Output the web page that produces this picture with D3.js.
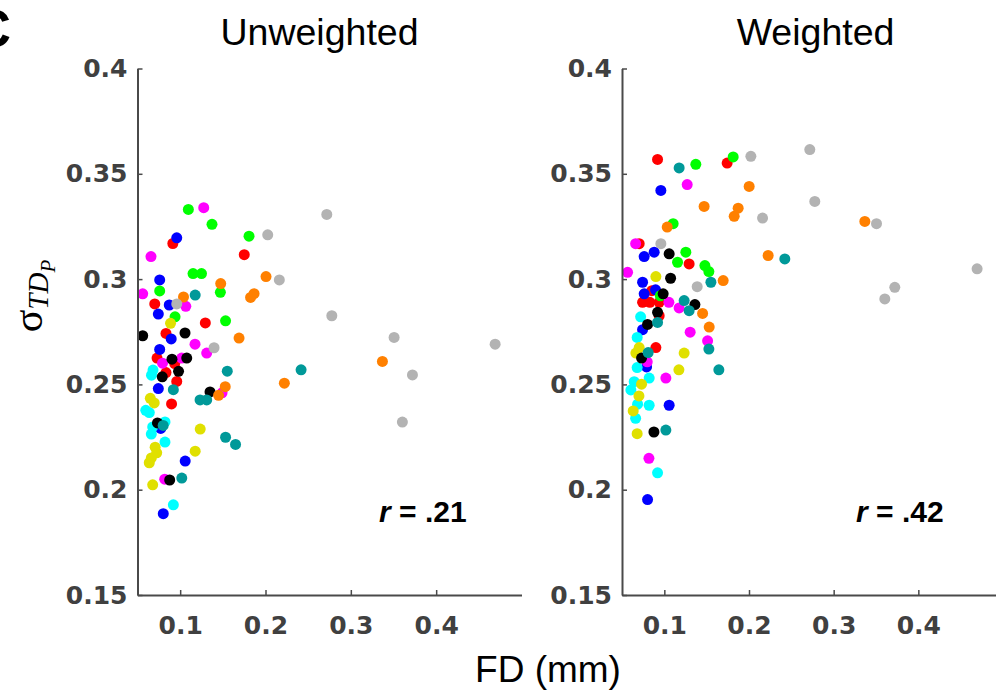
<!DOCTYPE html>
<html>
<head>
<meta charset="utf-8">
<script src="https://cdn.jsdelivr.net/npm/d3@7"></script>
<style>
  html, body { margin: 0; padding: 0; background: #fff; }
  svg { display: block; }
</style>
</head>
<body>
<svg id="chart" width="996" height="692"></svg>
<script>
// Marker colour for each subject group
const groupColors = ["#ff0000", "#0000ff", "#00ff00", "#ff00ff", "#00ffff",
                     "#e0e000", "#000000", "#009999", "#ff8000", "#b3b3b3"];

// Unweighted: [FD (mm), sigma] per group, same order as groupColors
const unweightedRed = [[0.0914,0.3169],[0.1751,0.3116],[0.0702,0.2882],[0.1295,0.2792],[0.0834,0.2742],[0.0729,0.2625],[0.0936,0.2599],[0.0834,0.2556],[0.0960,0.2514],[0.0899,0.2407]];
const unweightedBlue = [[0.0960,0.3196],[0.0760,0.2996],[0.0872,0.2877],[0.0744,0.2834],[0.0895,0.2716],[0.0760,0.2666],[0.0744,0.2480],[0.0772,0.2291],[0.1059,0.2136],[0.0802,0.1886]];
const unweightedGreen = [[0.1096,0.3331],[0.1373,0.3260],[0.1807,0.3204],[0.1151,0.3026],[0.1250,0.3026],[0.0760,0.2944],[0.1471,0.2937],[0.0940,0.2821],[0.1532,0.2802]];
const unweightedMagenta = [[0.1276,0.3339],[0.0658,0.3107],[0.0561,0.2930],[0.1066,0.2871],[0.1174,0.2691],[0.1311,0.2649],[0.1018,0.2625],[0.0793,0.2601],[0.0819,0.2050],[0.1491,0.2460]];
const unweightedCyan = [[0.0682,0.2568],[0.0664,0.2544],[0.0597,0.2377],[0.0638,0.2366],[0.0822,0.2322],[0.0678,0.2298],[0.0662,0.2264],[0.0822,0.2226],[0.0920,0.1928]];
const unweightedYellow = [[0.0887,0.2790],[0.0650,0.2434],[0.0696,0.2412],[0.1235,0.2288],[0.0707,0.2202],[0.0725,0.2175],[0.0662,0.2151],[0.0638,0.2128],[0.1176,0.2183],[0.0678,0.2023]];
const unweightedBlack = [[0.0561,0.2731],[0.1057,0.2744],[0.0904,0.2620],[0.1077,0.2625],[0.0981,0.2562],[0.0790,0.2536],[0.1350,0.2464],[0.0734,0.2317],[0.0877,0.2046]];
const unweightedTeal = [[0.1176,0.2924],[0.1552,0.2563],[0.0920,0.2475],[0.1233,0.2426],[0.1311,0.2426],[0.0801,0.2305],[0.1532,0.2249],[0.1649,0.2215],[0.1019,0.2055],[0.2417,0.2569]];
const unweightedOrange = [[0.1475,0.2979],[0.1039,0.2915],[0.1825,0.2913],[0.1866,0.2931],[0.2006,0.3012],[0.1690,0.2720],[0.1528,0.2489],[0.1450,0.2448],[0.2221,0.2506],[0.3370,0.2609]];
const unweightedGray = [[0.0960,0.2882],[0.1397,0.2674],[0.2026,0.3210],[0.2162,0.2996],[0.2718,0.3307],[0.2777,0.2826],[0.3507,0.2723],[0.4691,0.2691],[0.3722,0.2545],[0.3604,0.2321]];

// Weighted: [FD (mm), sigma] per group
const weightedRed = [[0.0920,0.3568],[0.1742,0.3551],[0.0703,0.3168],[0.1293,0.3072],[0.0743,0.2890],[0.0829,0.2890],[0.0939,0.2890],[0.0939,0.2826],[0.0900,0.2675],[0.0853,0.2945]];
const weightedBlue = [[0.0959,0.3421],[0.0762,0.3107],[0.0880,0.3128],[0.0743,0.2985],[0.0762,0.2930],[0.0897,0.2949],[0.0743,0.2760],[0.0790,0.2583],[0.1057,0.2401],[0.0802,0.1953]];
const weightedGreen = [[0.1813,0.3580],[0.1372,0.3545],[0.1104,0.3263],[0.1254,0.3128],[0.1156,0.3080],[0.1479,0.3064],[0.1526,0.3036],[0.0953,0.2921]];
const weightedMagenta = [[0.1270,0.3449],[0.0661,0.3168],[0.0566,0.3032],[0.1054,0.2890],[0.1175,0.2863],[0.1305,0.2748],[0.1511,0.2707],[0.0798,0.2607],[0.1018,0.2530],[0.0818,0.2149]];
const weightedCyan = [[0.0720,0.2821],[0.0679,0.2723],[0.0679,0.2580],[0.0821,0.2530],[0.0644,0.2513],[0.0605,0.2474],[0.0684,0.2406],[0.0821,0.2401],[0.0661,0.2339],[0.0920,0.2080]];
const weightedYellow = [[0.0900,0.3012],[0.0703,0.2675],[0.0664,0.2649],[0.1234,0.2649],[0.1172,0.2569],[0.0731,0.2501],[0.0700,0.2445],[0.0632,0.2374],[0.0679,0.2266]];
const weightedBlack = [[0.1057,0.3120],[0.1074,0.3004],[0.0986,0.2930],[0.1361,0.2879],[0.0920,0.2842],[0.0802,0.2785],[0.0731,0.2625],[0.0877,0.2274]];
const weightedTeal = [[0.1175,0.3528],[0.2423,0.3096],[0.1550,0.2985],[0.1234,0.2898],[0.1293,0.2850],[0.0920,0.2794],[0.0809,0.2651],[0.1526,0.2668],[0.1644,0.2569],[0.1018,0.2283]];
const weightedOrange = [[0.1470,0.3345],[0.2002,0.3440],[0.1872,0.3337],[0.1825,0.3298],[0.1034,0.3247],[0.3368,0.3274],[0.2226,0.3112],[0.1695,0.2993],[0.1452,0.2837],[0.1530,0.2772]];
const weightedGray = [[0.0959,0.3168],[0.1388,0.2964],[0.2022,0.3583],[0.2718,0.3615],[0.2777,0.3369],[0.2160,0.3290],[0.3506,0.3263],[0.4694,0.3049],[0.3722,0.2961],[0.3604,0.2906]];

const unweightedGroups = [unweightedRed, unweightedBlue, unweightedGreen, unweightedMagenta, unweightedCyan,
                          unweightedYellow, unweightedBlack, unweightedTeal, unweightedOrange, unweightedGray];
const weightedGroups = [weightedRed, weightedBlue, weightedGreen, weightedMagenta, weightedCyan,
                        weightedYellow, weightedBlack, weightedTeal, weightedOrange, weightedGray];

const panelTitles = ["Unweighted", "Weighted"];
const correlations = [".21", ".42"];
const xTicks = [0.1, 0.2, 0.3, 0.4];
const yTicks = [0.15, 0.2, 0.25, 0.3, 0.35, 0.4];
const xDomain = [0.05, 0.5];
const yDomain = [0.15, 0.4];

const svg = d3.select("#chart");
const axisColor = "#4a4a4a";
const tickFont = "'DejaVu Sans', sans-serif";
const labelFont = "'Liberation Sans', Arial, sans-serif";

const y = d3.scaleLinear().domain(yDomain).range([595, 68.5]);

const panels = [
  { left: 137.5, right: 521.5, groups: unweightedGroups, title: panelTitles[0], r: correlations[0], titleX: 319.5, rX: 379 },
  { left: 622,   right: 1003,  groups: weightedGroups,   title: panelTitles[1], r: correlations[1], titleX: 815.5, rX: 856 }
];

const fmt = d => String(+d.toFixed(2));

panels.forEach(p => {
  const x = d3.scaleLinear().domain(xDomain).range([p.left, p.right]);
  const g = svg.append("g");

  // scatter points, one colour per group
  p.groups.forEach((pts, gi) => {
    g.append("g").selectAll("circle")
      .data(pts)
      .join("circle")
      .attr("cx", d => x(d[0]))
      .attr("cy", d => y(d[1]))
      .attr("r", 5.5)
      .attr("fill", groupColors[gi]);
  });

  // axes with inward ticks
  const yAxis = d3.axisLeft(y).tickValues(yTicks).tickFormat(fmt)
    .tickSizeInner(-5).tickSizeOuter(0).tickPadding(10);
  const xAxis = d3.axisBottom(x).tickValues(xTicks).tickFormat(fmt)
    .tickSizeInner(-5).tickSizeOuter(0).tickPadding(21);

  const ya = g.append("g").attr("transform", `translate(${p.left},0)`).call(yAxis);
  const xa = g.append("g").attr("transform", `translate(0,595)`).call(xAxis);

  [ya, xa].forEach(a => {
    a.select(".domain").attr("stroke", axisColor).attr("stroke-width", 2);
    a.selectAll(".tick line").attr("stroke", axisColor).attr("stroke-width", 1.5);
    a.selectAll(".tick text")
      .attr("fill", "#404040")
      .attr("font-family", tickFont)
      .attr("font-weight", "bold")
      .attr("font-size", 25);
  });

  // panel title
  svg.append("text")
    .attr("x", p.titleX).attr("y", 45)
    .attr("text-anchor", "middle")
    .attr("font-family", labelFont)
    .attr("font-size", 37.5)
    .attr("fill", "#000")
    .text(p.title);

  // correlation annotation
  const rt = svg.append("text")
    .attr("x", p.rX).attr("y", 522)
    .attr("font-family", labelFont)
    .attr("font-size", 30)
    .attr("font-weight", "bold")
    .attr("fill", "#000");
  rt.append("tspan").attr("font-style", "italic").text("r");
  rt.append("tspan").text(" = " + p.r);
});

// shared x-axis label
svg.append("text")
  .attr("x", 548).attr("y", 682)
  .attr("text-anchor", "middle")
  .attr("font-family", labelFont)
  .attr("font-size", 37)
  .attr("fill", "#000")
  .text("FD (mm)");

// y-axis label: sigma with nested subscripts
const yl = svg.append("text")
  .attr("transform", "translate(42,296) rotate(-90)")
  .attr("text-anchor", "middle")
  .attr("font-family", "'Liberation Serif', 'DejaVu Serif', serif")
  .attr("fill", "#000");
yl.append("tspan").attr("font-size", 42).text("σ");
yl.append("tspan").attr("font-size", 29).attr("font-style", "italic").attr("dy", 6).text("TD");
yl.append("tspan").attr("font-size", 21).attr("font-style", "italic").attr("dy", 7).text("P");

// panel letter
svg.append("text")
  .attr("x", 11).attr("y", 47)
  .attr("text-anchor", "end")
  .attr("font-family", labelFont)
  .attr("font-weight", "bold")
  .attr("font-size", 54)
  .attr("fill", "#000")
  .text("C");
</script>
</body>
</html>
